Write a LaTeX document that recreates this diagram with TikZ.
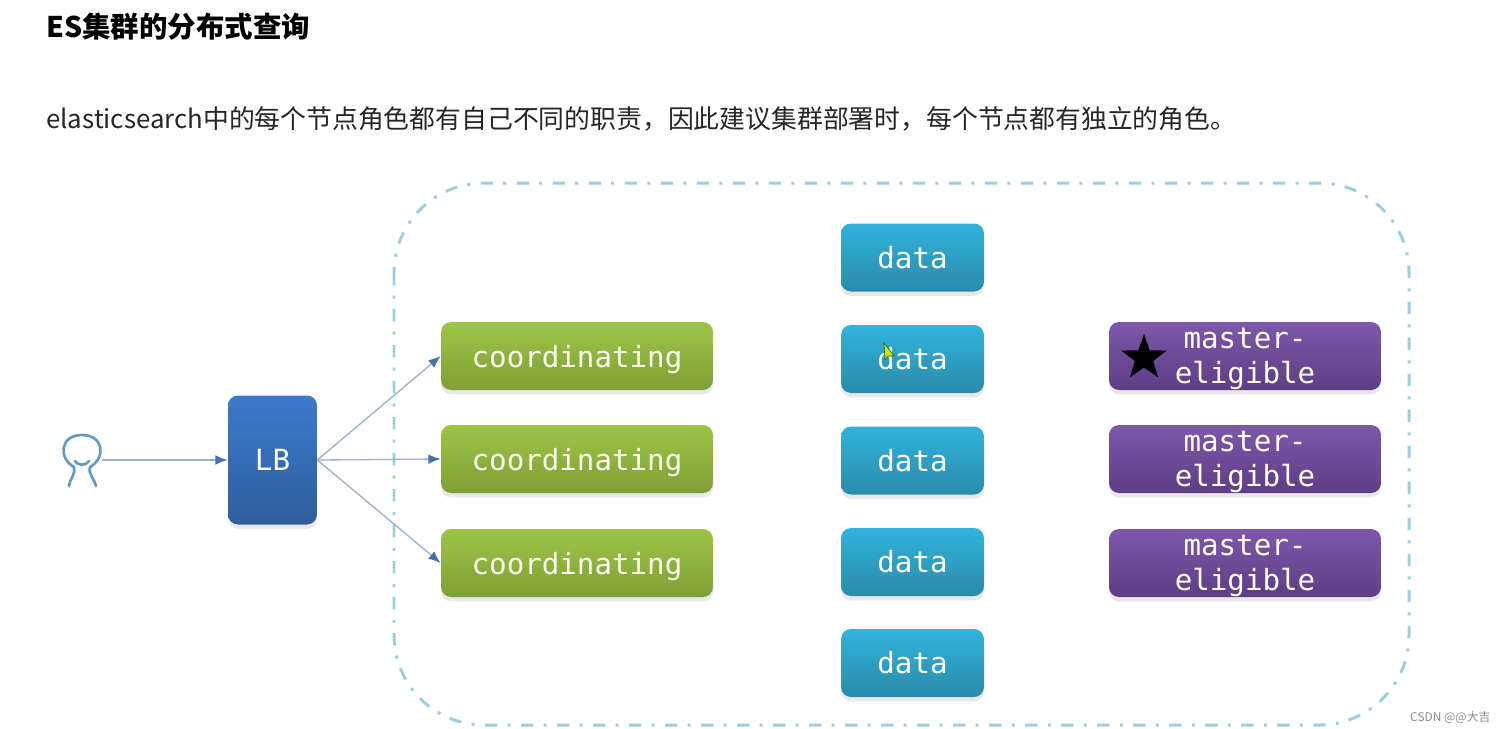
\documentclass[tikz,border=0pt]{standalone}
\usepackage{fontspec}
\usepackage{xcolor}
\setmainfont{Noto Sans CJK SC}
\setmonofont{DejaVu Sans Mono}
\usetikzlibrary{arrows.meta,shadows,shapes.geometric}

\definecolor{framecol}{HTML}{9CCEDC}
\definecolor{linecol}{HTML}{9DB0CC}
\definecolor{tipcol}{HTML}{4272B0}
\definecolor{iconcol}{HTML}{5F99C4}
\definecolor{lbtop}{HTML}{3B7BCB}
\definecolor{lbbot}{HTML}{2F5E9E}
\definecolor{coordtop}{HTML}{9DC548}
\definecolor{coordbot}{HTML}{7E9F35}
\definecolor{datatop}{HTML}{31B2DC}
\definecolor{databot}{HTML}{2A8BAB}
\definecolor{mastertop}{HTML}{7E57AB}
\definecolor{masterbot}{HTML}{5E3D85}

\tikzset{
	box/.style={draw=none, rounded corners=0.2cm, inner sep=0pt, text=white!94!yellow,
		font=\ttfamily\fontsize{16.6}{20}\selectfont, align=center,
		drop shadow={shadow xshift=0pt, shadow yshift=-2.5pt, opacity=0.18}},
	lbbox/.style={box, minimum width=1.78cm, minimum height=2.58cm,
		top color=lbtop, bottom color=lbbot},
	coordbox/.style={box, text depth=0pt, minimum width=5.44cm, minimum height=1.36cm,
		top color=coordtop, bottom color=coordbot},
	databox/.style={box, minimum width=2.86cm, minimum height=1.36cm,
		top color=datatop, bottom color=databot},
	masterbox/.style={box, text depth=-2pt, minimum width=5.44cm, minimum height=1.36cm,
		top color=mastertop, bottom color=masterbot},
	link/.style={draw=linecol, line width=0.75pt, -{Latex[length=7pt, width=5.5pt, color=tipcol]}},
}

\begin{document}
\begin{tikzpicture}[x=0.02cm, y=-0.02cm]
	\useasboundingbox (0, 0) rectangle (1500, 728);

	% Heading and intro line
	\node[anchor=west, inner sep=0pt, font=\bfseries\fontsize{16.2}{18}\selectfont] (title) at (46, 27) {ES集群的分布式查询};
	\node[anchor=west, inner sep=0pt, text=black!85, font=\fontsize{14.7}{18}\selectfont] (intro) at (46, 119) {elasticsearch中的每个节点角色都有自己不同的职责，因此建议集群部署时，每个节点都有独立的角色。};

	% Cluster frame
	\draw[framecol, line width=1.7pt, rounded corners=1.8cm, dash pattern=on 7pt off 5.9pt on 1.7pt off 5.9pt] (394, 183) rectangle (1409, 725);

	% User icon
	\node[minimum width=0.8cm, minimum height=1.06cm, inner sep=0pt] (user) at (82, 460) {};
	\draw[iconcol, line width=1.5pt, line cap=round] (74, 467) .. controls (58, 458) and (60, 435) .. (82, 435) .. controls (104, 435) and (106, 458) .. (90, 467);
	\draw[iconcol, line width=1.5pt, line cap=round] (74, 467) .. controls (76, 474) and (70, 478) .. (69, 486);
	\draw[iconcol, line width=1.5pt, line cap=round] (90, 467) .. controls (88, 474) and (94, 478) .. (96, 486);
	\draw[iconcol, line width=1.5pt, line cap=round] (75, 461) .. controls (78, 466) and (86, 466) .. (89, 461);

	% Load balancer
	\node[lbbox] (LB) at (272.5, 460) {LB};

	% Coordinating nodes
	\node[coordbox] (c1) at (577, 356) {coordinating};
	\node[coordbox] (c2) at (577, 459) {coordinating};
	\node[coordbox] (c3) at (577, 563) {coordinating};

	% Data nodes
	\node[databox] (d1) at (912.5, 257.5) {data};
	\node[databox] (d2) at (912.5, 359) {data};
	\node[databox] (d3) at (912.5, 460.5) {data};
	\node[databox] (d4) at (912.5, 562) {data};
	\node[databox] (d5) at (912.5, 663) {data};

	% Master-eligible nodes
	\node[masterbox] (m1) at (1245, 356) {master-\\eligible};
	\node[masterbox] (m2) at (1245, 459) {master-\\eligible};
	\node[masterbox] (m3) at (1245, 563) {master-\\eligible};
	\node[star, star points=5, star point ratio=2.5, fill=black, inner sep=0pt, minimum size=0.96cm] (leader) at (1144, 358) {};

	% Mouse pointer
	\draw[fill=yellow!80!green, draw=green!40!black, line width=0.3pt] (884, 343) -- (885, 360) -- (888, 356) -- (894, 356) -- cycle;

	% Requests
	\draw[link] (user.east) -- (LB.west);
	\draw[link] (LB.east) -- (c1.west);
	\draw[link] (LB.east) -- (c2.west);
	\draw[link] (LB.east) -- (c3.west);

	% Watermark
	\node[anchor=east, inner sep=0pt, text=black!45, font=\fontsize{6.8}{8}\selectfont] (mark) at (1491, 717) {CSDN @@大吉};
\end{tikzpicture}
\end{document}
